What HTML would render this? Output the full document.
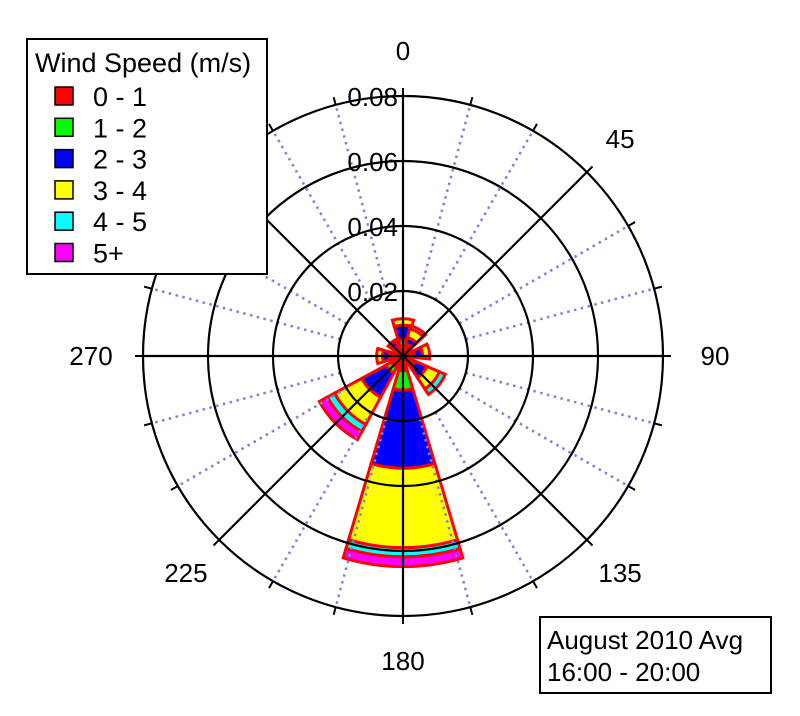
<!DOCTYPE html>
<html><head><meta charset="utf-8"><style>
body{margin:0;background:#fff;}
svg{display:block;font-family:"Liberation Sans",sans-serif;}
</style></head><body>
<svg id="c" width="800" height="716" viewBox="0 0 800 716">
<g id="wedges"></g>
<g id="grid"></g>
<g id="labels"></g>
<g>
<rect x="27" y="39" width="240" height="235" fill="#fff" stroke="#000" stroke-width="2"/>
<text x="35" y="72" font-size="27">Wind Speed (m/s)</text>
<g id="legendItems"></g>
</g>
<g>
<rect x="540" y="617" width="231" height="76" fill="#fff" stroke="#000" stroke-width="2"/>
<text x="547" y="649" font-size="26">August 2010 Avg</text>
<text x="547" y="681" font-size="26">16:00 - 20:00</text>
</g>
</svg>
<script>
const directions=[0,30,80,130,180,225,270,320];
const bin01=[0.0030,0.0030,0.0030,0.0030,0.0045,0.0040,0.0035,0.0030];
const bin12=[0.0020,0.0008,0.0005,0.0010,0.0060,0.0020,0.0008,0.0005];
const bin23=[0.0045,0.0020,0.0025,0.0040,0.0240,0.0085,0.0020,0.0015];
const bin34=[0.0020,0.0028,0.0022,0.0042,0.0245,0.0095,0.0018,0.0005];
const bin45=[0.0000,0.0010,0.0000,0.0020,0.0028,0.0025,0.0000,0.0000];
const bin5p=[0.0000,0.0000,0.0000,0.0000,0.0030,0.0028,0.0000,0.0000];
const binColors=["#ff0000","#00ff00","#0000ff","#ffff00","#00ffff","#ff00ff"];
const binLabels=["0 - 1","1 - 2","2 - 3","3 - 4","4 - 5","5+"];
const rTicks=[0.02,0.04,0.06,0.08];
const rTickLabels=["0.02","0.04","0.06","0.08"];
const angleLabels=[0,45,90,135,180,225,270];
const NS="http://www.w3.org/2000/svg";
const cx=403,cy=356,rMax=0.08,Rpx=260;
const rs=v=>v/rMax*Rpx;
const pt=(deg,r)=>{const a=deg*Math.PI/180;return [cx+r*Math.sin(a),cy-r*Math.cos(a)];};
function mk(tag,attrs,parent){const e=document.createElementNS(NS,tag);for(const k in attrs)e.setAttribute(k,attrs[k]);parent.appendChild(e);return e;}
const W=document.getElementById('wedges');
const bins=[bin01,bin12,bin23,bin34,bin45,bin5p];
const half=16.5;
directions.forEach((d,i)=>{
 let acc=0;
 bins.forEach((b,j)=>{
  const v=b[i]; if(v<=0) return;
  const r0=rs(acc),r1=rs(acc+v); acc+=v;
  const a=pt(d-half,r0),b2=pt(d+half,r0),c=pt(d+half,r1),e=pt(d-half,r1);
  const p=`M${a[0]},${a[1]} L${e[0]},${e[1]} A${r1},${r1} 0 0 1 ${c[0]},${c[1]} L${b2[0]},${b2[1]} A${r0},${r0} 0 0 0 ${a[0]},${a[1]}Z`;
  const el=mk('path',{d:p,fill:binColors[j],stroke:'#ff0000','stroke-width':3,'stroke-linejoin':'miter'},W);
  
  
 });
});
const G=document.getElementById('grid');
for(let d=0;d<360;d+=15){
 if(d%45===0){const p=pt(d,Rpx);mk('line',{x1:cx,y1:cy,x2:p[0],y2:p[1],stroke:'#000','stroke-width':2.2},G);}
 else{const p0=pt(d,rs(rTicks[0])),p=pt(d,Rpx);mk('line',{x1:p0[0],y1:p0[1],x2:p[0],y2:p[1],stroke:'#8080e0','stroke-width':2.5,'stroke-dasharray':'2.5 4.5'},G);}
}
for(let d=0;d<360;d+=15){const p0=pt(d,Rpx),p1=pt(d,Rpx+8);mk('line',{x1:p0[0],y1:p0[1],x2:p1[0],y2:p1[1],stroke:'#000','stroke-width':2},G);}
rTicks.forEach(t=>{mk('circle',{cx:cx,cy:cy,r:rs(t),fill:'none',stroke:'#000','stroke-width':2.2},G);});
const L=document.getElementById('labels');
rTicks.forEach((t,i)=>{const el=mk('text',{x:cx-5,y:cy-rs(t)+10,'font-size':26,'text-anchor':'end'},L);el.textContent=rTickLabels[i];
 
 
 mk('line',{x1:cx-4,y1:cy-rs(t),x2:cx+4,y2:cy-rs(t),stroke:'#000','stroke-width':2},L);});
angleLabels.forEach(a=>{const off=(a%180===90)?52:(a%90===0?45:47);const p=pt(a,Rpx+off);const el=mk('text',{x:p[0],y:p[1]+9,'font-size':26,'text-anchor':'middle'},L);el.textContent=a;
 
 });
const LI=document.getElementById('legendItems');
binLabels.forEach((lb,i)=>{const y=96+i*31.3;
 mk('rect',{x:55,y:y-9,width:18,height:18,fill:binColors[i],stroke:'#000','stroke-width':1.5},LI);
 const t=mk('text',{x:93,y:y+10,'font-size':27},LI);t.textContent=lb;
 
 });
</script>
</body></html>
